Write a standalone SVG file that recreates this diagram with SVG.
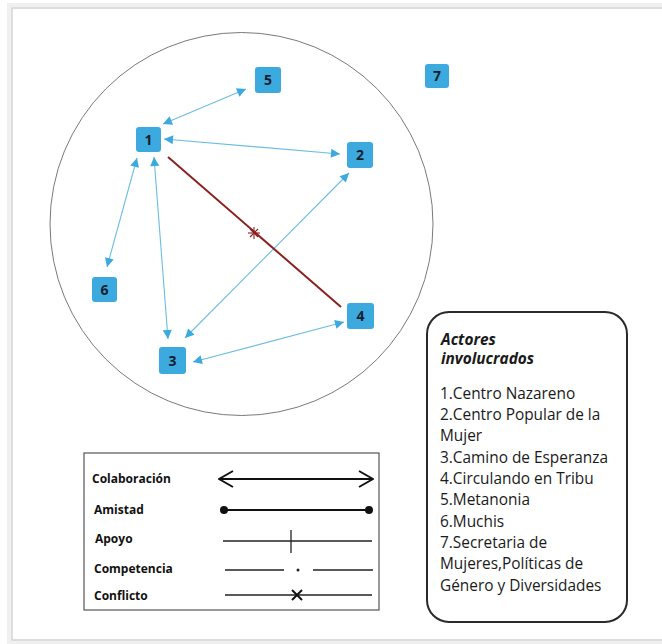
<svg xmlns="http://www.w3.org/2000/svg" width="662" height="644" viewBox="0 0 662 644">
<defs>
<style>
.node rect{fill:#3caade;}
.node text{font-family:"Open Sans","Noto Sans",sans-serif;font-weight:bold;font-size:14px;fill:#14202e;text-anchor:middle;}
.edge{stroke:#6cbde2;stroke-width:1.1;fill:none;marker-start:url(#ah);marker-end:url(#ah);}
.lg{font-family:"Open Sans","Noto Sans",sans-serif;font-weight:bold;font-size:12px;fill:#111;}
.ls{stroke:#222;stroke-width:1.3;fill:none;}
.act{font-family:"Open Sans","Noto Sans",sans-serif;font-size:15.4px;fill:#1a1a1a;}
</style>
<marker id="ah" viewBox="0 0 10 10" refX="10" refY="5" markerWidth="11" markerHeight="9" markerUnits="userSpaceOnUse" orient="auto-start-reverse">
<path d="M0,0 L10,5 L0,10 z" fill="#3caade"/>
</marker>
<marker id="oa" viewBox="0 0 16 18" refX="15" refY="9" markerWidth="16" markerHeight="18" markerUnits="userSpaceOnUse" orient="auto-start-reverse">
<path d="M1,1 L15,9 L1,17" fill="none" stroke="#111" stroke-width="2"/>
</marker>
</defs>
<rect width="662" height="644" fill="#ffffff"/>
<g id="page">
<rect x="9" y="5" width="670" height="638" fill="none" stroke="#f0f0f0" stroke-width="4"/>
<rect x="12" y="8" width="670" height="632" fill="#ffffff" stroke="#d2d2d2" stroke-width="1.5"/>
</g>
<circle id="boundary" cx="241.5" cy="224" r="191.5" fill="none" stroke="#7a7a7a" stroke-width="1"/>
<g id="connectors">
<line class="edge" x1="163" y1="124" x2="246" y2="89"/>
<line class="edge" x1="164" y1="139" x2="340" y2="154"/>
<line class="edge" x1="137" y1="158" x2="107" y2="267"/>
<line class="edge" x1="154" y1="157" x2="168" y2="339"/>
<line class="edge" x1="349" y1="173" x2="185" y2="338"/>
<line class="edge" x1="193" y1="362" x2="344" y2="322"/>
<g id="conflict-1-4">
<line x1="168" y1="157" x2="341" y2="307" stroke="#8b2020" stroke-width="2"/>
<g stroke="#8b2020" stroke-width="1.1">
<line x1="254" y1="227" x2="254" y2="239"/>
<line x1="248" y1="233" x2="260" y2="233"/>
<line x1="250" y1="229" x2="258" y2="237"/>
<line x1="258" y1="229" x2="250" y2="237"/>
</g>
</g>
</g>
<g id="n1" class="node"><rect x="136" y="127" width="25" height="25" rx="3"/><text x="148.5" y="144.5">1</text></g>
<g id="n2" class="node"><rect x="347" y="142" width="26" height="26" rx="3"/><text x="360" y="160">2</text></g>
<g id="n3" class="node"><rect x="159" y="347" width="27" height="27" rx="3"/><text x="172.5" y="365.5">3</text></g>
<g id="n4" class="node"><rect x="347" y="303" width="27" height="26" rx="3"/><text x="360.5" y="321">4</text></g>
<g id="n5" class="node"><rect x="255" y="67" width="26" height="26" rx="3"/><text x="268" y="85">5</text></g>
<g id="n6" class="node"><rect x="92" y="277" width="25" height="25" rx="3"/><text x="104.5" y="294.5">6</text></g>
<g id="n7" class="node"><rect x="425" y="64" width="24" height="24" rx="3"/><text x="437" y="81">7</text></g>
<g id="legend">
<rect x="84" y="453" width="295" height="157" fill="#ffffff" stroke="#555" stroke-width="1.2"/>
<text class="lg" x="92" y="483">Colaboración</text>
<text class="lg" x="94" y="514">Amistad</text>
<text class="lg" x="95" y="543">Apoyo</text>
<text class="lg" x="94" y="573">Competencia</text>
<text class="lg" x="94" y="600">Conflicto</text>
<line x1="219" y1="479" x2="373" y2="479" stroke="#111" stroke-width="2" marker-start="url(#oa)" marker-end="url(#oa)"/>
<line x1="224" y1="510" x2="369" y2="510" stroke="#111" stroke-width="2"/>
<circle cx="224" cy="510" r="4" fill="#111"/>
<circle cx="369" cy="510" r="4" fill="#111"/>
<line class="ls" x1="223" y1="541" x2="372" y2="541"/>
<line class="ls" x1="291" y1="530" x2="291" y2="553"/>
<line class="ls" x1="225" y1="570" x2="284" y2="570"/>
<circle cx="298" cy="570" r="1.5" fill="#222"/>
<line class="ls" x1="313" y1="570" x2="373" y2="570"/>
<line class="ls" x1="225" y1="595" x2="372" y2="595"/>
<g stroke="#111" stroke-width="2"><line x1="292" y1="590" x2="302" y2="600"/><line x1="302" y1="590" x2="292" y2="600"/></g>
</g>
<g id="actors">
<rect x="427" y="312" width="200" height="310" rx="22" fill="#ffffff" stroke="#2a2a2a" stroke-width="2"/>
<text class="act" font-weight="bold" font-style="italic" x="441" y="345">Actores</text>
<text class="act" font-weight="bold" font-style="italic" x="441" y="364">involucrados</text>
<text class="act" x="440" y="399">1.Centro Nazareno</text>
<text class="act" x="440" y="420">2.Centro Popular de la</text>
<text class="act" x="440" y="441">Mujer</text>
<text class="act" x="440" y="463">3.Camino de Esperanza</text>
<text class="act" x="440" y="484">4.Circulando en Tribu</text>
<text class="act" x="440" y="505">5.Metanonia</text>
<text class="act" x="440" y="527">6.Muchis</text>
<text class="act" x="440" y="548">7.Secretaria de</text>
<text class="act" x="440" y="569">Mujeres,Políticas de</text>
<text class="act" x="440" y="591">Género y Diversidades</text>
</g>
</svg>
